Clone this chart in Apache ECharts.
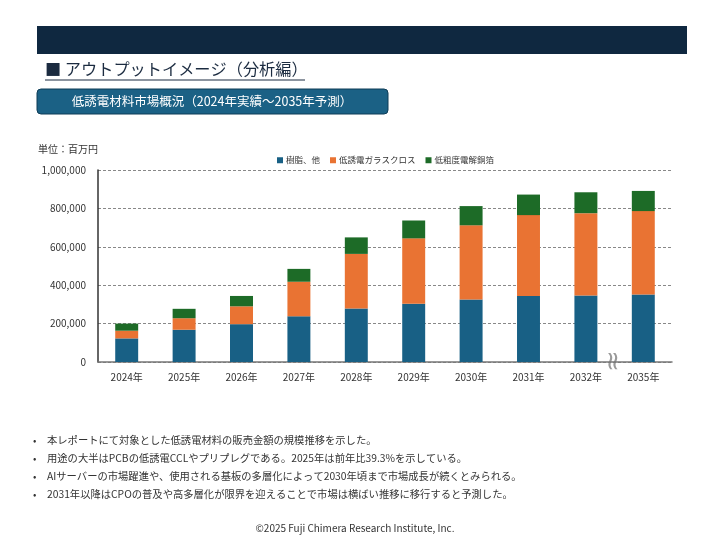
<!DOCTYPE html>
<html>
<head>
<meta charset="utf-8">
<script src="https://cdn.jsdelivr.net/npm/echarts@6/dist/echarts.min.js"></script>
<style>
	html, body { margin: 0; padding: 0; background: #fff; }
	#main { width: 720px; height: 540px; }
</style>
</head>
<body>
<div id="main"></div>
<script>
var years = ['2024年', '2025年', '2026年', '2027年', '2028年', '2029年', '2030年', '2031年', '2032年', '2035年'];
var resinData = [123000, 168000, 197000, 238000, 278000, 304000, 326000, 344000, 346000, 352000];
var glassData = [40000, 60000, 93000, 180000, 285000, 340000, 386000, 421000, 429000, 434000];
var copperData = [37000, 49000, 54000, 67000, 86000, 93000, 100000, 107000, 109000, 105000];
var seriesNames = ['樹脂、他', '低誘電ガラスクロス', '低粗度電解銅箔'];
var notes = [
	'本レポートにて対象とした低誘電材料の販売金額の規模推移を示した。',
	'用途の大半はPCBの低誘電CCLやプリプレグである。2025年は前年比39.3%を示している。',
	'AIサーバーの市場躍進や、使用される基板の多層化によって2030年頃まで市場成長が続くとみられる。',
	'2031年以降はCPOの普及や高多層化が限界を迎えることで市場は横ばい推移に移行すると予測した。'
];

var font = '"Noto Sans CJK JP", "Noto Sans", sans-serif';
var chart = echarts.init(document.getElementById('main'));

var graphics = [
	// 上部の帯
	{ type: 'rect', shape: { x: 37, y: 26, width: 650, height: 28 }, style: { fill: '#0f2840' } },
	// 見出し
	{ type: 'text', left: 45, top: 61, style: { text: '■ アウトプットイメージ（分析編）', font: '16.2px ' + font, fill: '#1b2b40' } },
	{ type: 'line', shape: { x1: 45, y1: 80, x2: 305, y2: 80 }, style: { stroke: '#1b2b40', lineWidth: 1 } },
	// タイトルボックス
	{ type: 'rect', shape: { x: 37, y: 89, width: 351, height: 25, r: 4 }, style: { fill: '#1b6185', stroke: '#0f3d57', lineWidth: 1 } },
	{ type: 'text', x: 212, y: 101.5, style: { text: '低誘電材料市場概況（2024年実績～2035年予測）', font: '12.5px ' + font, fill: '#fff', align: 'center', verticalAlign: 'middle' } },
	// 単位
	{ type: 'text', left: 38, top: 144, style: { text: '単位：百万円', font: '10px ' + font, fill: '#333' } },
	// 省略記号
	{ type: 'text', x: 614, y: 361, rotation: Math.PI / 2, style: { text: '≈', font: '26px "DejaVu Sans"', fill: '#999', align: 'center', verticalAlign: 'middle' } },
	// コピーライト
	{ type: 'text', x: 355, y: 528, style: { text: '©2025 Fuji Chimera Research Institute, Inc.', font: '10px ' + font, fill: '#333', align: 'center', verticalAlign: 'middle' } }
];
for (var i = 0; i < notes.length; i++) {
	graphics.push({ type: 'text', x: 33, y: 440 + i * 18, style: { text: '•', font: '10px ' + font, fill: '#333', verticalAlign: 'middle' } });
	graphics.push({ type: 'text', x: 47, y: 440 + i * 18, style: { text: notes[i], font: '10.3px ' + font, fill: '#333', verticalAlign: 'middle' } });
}

function barSeries(name, data, color) {
	return {
		name: name,
		type: 'bar',
		stack: 'total',
		barWidth: '40%',
		data: data,
		itemStyle: { color: color }
	};
}

var option = {
	animation: false,
	textStyle: { fontFamily: font },
	legend: {
		data: seriesNames,
		top: 151,
		left: 272,
		itemWidth: 6,
		itemHeight: 6,
		itemGap: 10,
		icon: 'rect',
		textStyle: { fontSize: 8.5, color: '#333', padding: [0, 0, 0, -2] }
	},
	grid: {
		left: 98,
		right: 48,
		top: 170,
		bottom: 178
	},
	xAxis: {
		type: 'category',
		data: years,
		axisTick: { show: false },
		axisLine: { lineStyle: { color: '#777', width: 1.5 } },
		axisLabel: { color: '#333', fontSize: 10, margin: 10 }
	},
	yAxis: {
		type: 'value',
		min: 0,
		max: 1000000,
		interval: 200000,
		axisLine: { show: true, lineStyle: { color: '#333', width: 1.5 } },
		axisTick: { show: false },
		splitLine: { lineStyle: { color: '#888', type: [3, 2], width: 1 } },
		axisLabel: {
			color: '#333',
			fontSize: 10,
			margin: 12,
			formatter: function(v) { return v.toLocaleString('en-US'); }
		}
	},
	series: [
		barSeries(seriesNames[0], resinData, '#186085'),
		barSeries(seriesNames[1], glassData, '#e97333'),
		barSeries(seriesNames[2], copperData, '#1d6b27')
	],
	graphic: graphics
};
chart.setOption(option, true);
</script>
</body>
</html>
